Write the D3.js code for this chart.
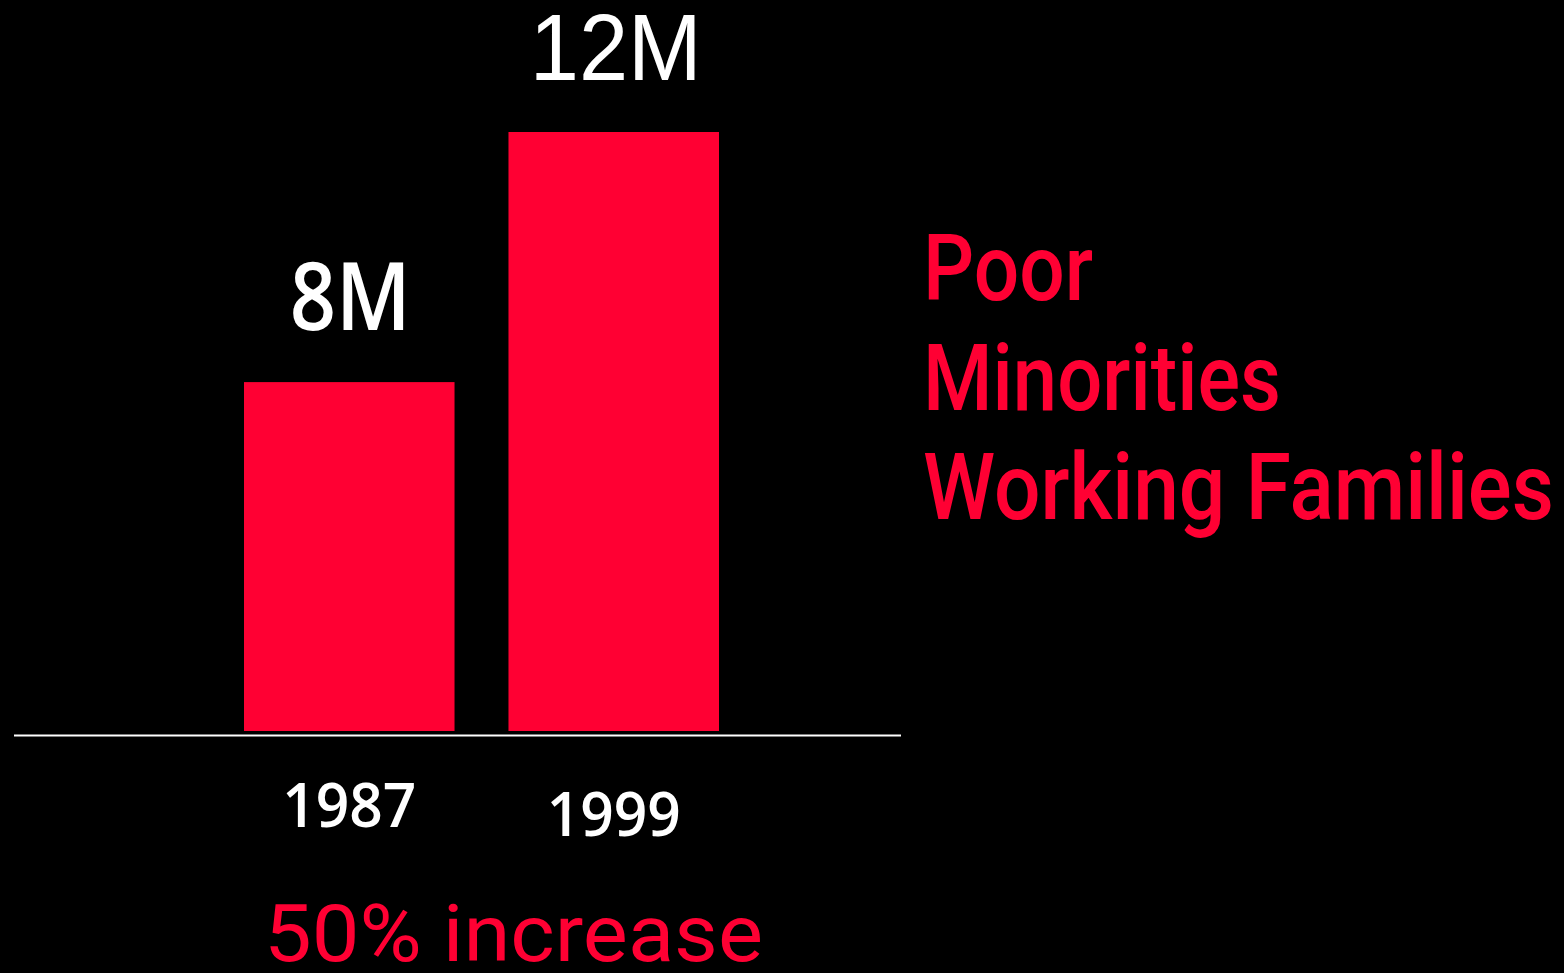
<!DOCTYPE html>
<html>
<head>
<meta charset="utf-8">
<script src="https://cdn.jsdelivr.net/npm/d3@7"></script>
<style>
  html, body { margin: 0; padding: 0; background: #000; overflow: hidden; }
</style>
</head>
<body>
<svg id="chart"></svg>
<script>
(function(d3) {
  "use strict";

  // data
  var years = ["1987", "1999"];
  var values = [8, 12];          // millions
  var valueLabels = ["8M", "12M"];
  var legendLines = ["Poor", "Minorities", "Working Families"];
  var caption = "50% increase";

  var width = 1564, height = 973;
  var red = "#ff0033";
  var condensed = "'Liberation Sans Narrow', 'Roboto', 'Liberation Sans', sans-serif";

  var svg = d3.select("#chart")
    .attr("width", width)
    .attr("height", height)
    .style("background", "#000");

  // bars don't start at zero in the original slide
  var x = d3.scaleBand()
    .domain(years)
    .range([244, 719])
    .paddingInner(0.204)
    .paddingOuter(0);
  var y = d3.scaleLinear()
    .domain([2.42, 12])
    .range([731, 132]);

  svg.selectAll("rect.bar")
    .data(values)
    .enter()
    .append("rect")
    .attr("class", "bar")
    .attr("x", (d, i) => x(years[i]))
    .attr("y", d => y(d))
    .attr("width", x.bandwidth())
    .attr("height", d => y.range()[0] - y(d))
    .attr("fill", red);

  // baseline
  svg.append("line")
    .attr("x1", 14).attr("x2", 901)
    .attr("y1", 735.5).attr("y2", 735.5)
    .attr("stroke", "#fff")
    .attr("stroke-width", 2);

  // value labels
  var valFonts = ["'Open Sans', sans-serif", "'Liberation Sans', Arial, sans-serif"];
  var valWeights = [600, 400];
  var valWidths = [121, 172];
  var valDx = [1, 2];
  svg.selectAll("text.val")
    .data(values)
    .enter()
    .append("text")
    .attr("class", "val")
    .attr("x", (d, i) => x(years[i]) + x.bandwidth() / 2 + valDx[i])
    .attr("y", d => y(d) - 52)
    .attr("text-anchor", "middle")
    .attr("fill", "#fff")
    .style("font-family", (d, i) => valFonts[i])
    .style("font-weight", (d, i) => valWeights[i])
    .style("font-size", "94px")
    .attr("textLength", (d, i) => valWidths[i])
    .attr("lengthAdjust", "spacingAndGlyphs")
    .text((d, i) => valueLabels[i]);

  // year labels
  var yearBase = [827, 836];
  svg.selectAll("text.year")
    .data(years)
    .enter()
    .append("text")
    .attr("class", "year")
    .attr("x", d => x(d) + x.bandwidth() / 2)
    .attr("y", (d, i) => yearBase[i])
    .attr("text-anchor", "middle")
    .attr("fill", "#fff")
    .style("font-family", "'Open Sans', sans-serif")
    .style("font-weight", 600)
    .style("font-size", "61px")
    .attr("textLength", 134)
    .attr("lengthAdjust", "spacingAndGlyphs")
    .text(d => d);

  // legend text on the right
  var legendWidths = [170, 358, 631];
  svg.selectAll("text.legend")
    .data(legendLines)
    .enter()
    .append("text")
    .attr("class", "legend")
    .attr("x", 923)
    .attr("y", (d, i) => 300 + i * 109.5)
    .attr("fill", red)
    .style("font-family", condensed)
    .style("font-weight", 500)
    .style("font-size", "93px")
    .attr("textLength", (d, i) => legendWidths[i])
    .attr("lengthAdjust", "spacingAndGlyphs")
    .text(d => d);

  svg.append("text")
    .attr("x", 264)
    .attr("y", 961)
    .attr("fill", red)
    .style("font-family", condensed)
    .style("font-weight", 400)
    .style("font-size", "80px")
    .attr("textLength", 499)
    .attr("lengthAdjust", "spacingAndGlyphs")
    .text(caption);

})(d3);
</script>
</body>
</html>
